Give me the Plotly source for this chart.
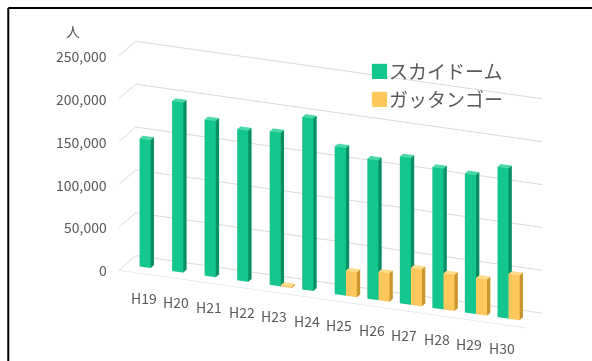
import plotly.graph_objects as go

categories = ["H19", "H20", "H21", "H22", "H23", "H24", "H25", "H26", "H27", "H28", "H29", "H30"]
skydome = [149000, 198000, 182000, 176000, 179000, 201000, 172000, 163000, 171000, 164000, 162000, 175000]
gattango = [0, 0, 0, 0, 1500, 0, 29000, 33000, 43000, 42000, 42000, 52000]
series_names = ["スカイドーム", "ガッタンゴー"]
yticks = [0, 50000, 100000, 150000, 200000, 250000]

GREEN = ("#12C68D", "#0B8E65", "#4BD8A8")
ORANGE = ("#FFC85C", "#C9962F", "#FFDB8E")

Y_FRONT, Y_BACK = -0.5, 0.5
X_MIN, X_MAX = -0.75, len(categories) - 0.25


def box_mesh(values, offset, width, colors):
    xs, ys, zs, ii, jj, kk, fc = [], [], [], [], [], [], []
    front, side, top = colors
    for idx, v in enumerate(values):
        if not v:
            continue
        x0, x1 = idx + offset, idx + offset + width
        y0, y1 = -0.1, 0.1
        z0, z1 = 0, v
        b = len(xs)
        pts = [(x0, y0, z0), (x1, y0, z0), (x1, y1, z0), (x0, y1, z0),
               (x0, y0, z1), (x1, y0, z1), (x1, y1, z1), (x0, y1, z1)]
        for p in pts:
            xs.append(p[0]); ys.append(p[1]); zs.append(p[2])
        tris = [((0, 1, 5), front), ((0, 5, 4), front),
                ((3, 2, 6), front), ((3, 6, 7), front),
                ((0, 3, 7), side), ((0, 7, 4), side),
                ((1, 2, 6), side), ((1, 6, 5), side),
                ((4, 5, 6), top), ((4, 6, 7), top),
                ((0, 1, 2), side), ((0, 2, 3), side)]
        for (a, c, d), col in tris:
            ii.append(b + a); jj.append(b + c); kk.append(b + d); fc.append(col)
    return go.Mesh3d(x=xs, y=ys, z=zs, i=ii, j=jj, k=kk, facecolor=fc,
                     flatshading=True, hoverinfo="skip",
                     lighting=dict(ambient=1, diffuse=0, specular=0, roughness=1, fresnel=0),
                     showscale=False)


fig = go.Figure()
fig.add_trace(box_mesh(skydome, -0.32, 0.34, GREEN))
fig.add_trace(box_mesh(gattango, 0.02, 0.34, ORANGE))

center = dict(x=-0.207, y=0.0, z=-0.005)
direction = (0.351, -0.8685, 0.350)
dist = 2.046
eye = dict(x=center["x"] + direction[0] * dist,
           y=center["y"] + direction[1] * dist,
           z=center["z"] + direction[2] * dist)

cat_labels = [dict(x=i + 0.02, y=Y_FRONT, z=0, text=c, showarrow=False, yshift=-24,
                   font=dict(size=14, color="#595959"))
              for i, c in enumerate(categories)]
val_labels = [dict(x=X_MIN, y=Y_FRONT, z=v, text=f"{v:,}", showarrow=False,
                   xanchor="right", xshift=-10, font=dict(size=14, color="#595959"))
              for v in yticks]

axis_common = dict(showbackground=False, showspikes=False, title=dict(text=""))
fig.update_layout(
    width=592, height=361,
    margin=dict(l=0, r=0, t=0, b=0),
    paper_bgcolor="white",
    showlegend=False,
    font=dict(family="Noto Sans CJK JP, Noto Sans, sans-serif", color="#595959", size=14),
    scene=dict(
        domain=dict(x=[0.0, 1.0], y=[0.0, 1.0]),
        xaxis=dict(tickvals=list(range(len(categories))), ticktext=categories,
                   showticklabels=False, range=[X_MIN, X_MAX], showgrid=False,
                   showline=True, linecolor="#D9D9D9", zeroline=False, **axis_common),
        yaxis=dict(range=[Y_FRONT, Y_BACK], showticklabels=False, showgrid=False,
                   showline=False, zeroline=False, **axis_common),
        zaxis=dict(range=[0, 250000], tickvals=yticks,
                   ticktext=[f"{v:,}" for v in yticks], showticklabels=False,
                   showgrid=True, gridcolor="#D9D9D9", showline=False, zeroline=False,
                   **axis_common),
        aspectmode="manual",
        aspectratio=dict(x=2.43, y=0.25, z=1.268),
        camera=dict(eye=eye, center=center, up=dict(x=0, y=0, z=1),
                    projection=dict(type="orthographic")),
        annotations=cat_labels + val_labels,
    ),
    annotations=[
        dict(text="人", x=73 / 592, y=1 - 31 / 361, xref="paper", yref="paper",
             xanchor="center", yanchor="middle", showarrow=False,
             font=dict(size=14, color="#595959")),
        dict(text="<span style='color:#12C68D'>■</span>" + series_names[0],
             x=368 / 592, y=1 - 70 / 361, xref="paper", yref="paper", xanchor="left",
             yanchor="middle", showarrow=False, font=dict(size=19, color="#595959")),
        dict(text="<span style='color:#FFC85C'>■</span>" + series_names[1],
             x=368 / 592, y=1 - 98 / 361, xref="paper", yref="paper", xanchor="left",
             yanchor="middle", showarrow=False, font=dict(size=19, color="#595959")),
    ],
    shapes=[
        dict(type="line", xref="paper", yref="paper", x0=0.014, x1=1, y0=0.978, y1=0.978,
             line=dict(color="#000000", width=2)),
        dict(type="line", xref="paper", yref="paper", x0=0.014, x1=0.014, y0=0, y1=0.978,
             line=dict(color="#000000", width=2)),
    ],
)

fig.write_html("out.html", config={"displayModeBar": False})
